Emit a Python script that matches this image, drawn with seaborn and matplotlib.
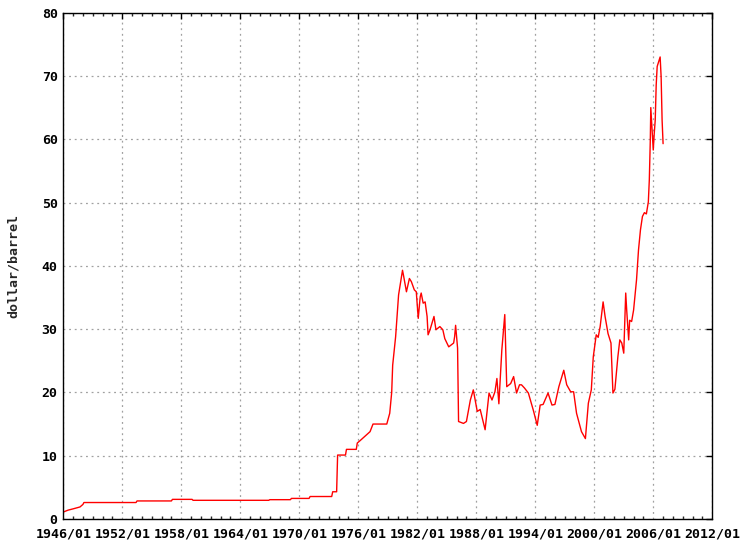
import matplotlib
matplotlib.use("Agg")
import matplotlib.pyplot as plt
import seaborn as sns
import pandas as pd
from matplotlib.ticker import MultipleLocator, FixedLocator

# decimal year of each reading and the price in dollar/barrel
years = [
    1946.0, 1946.5, 1947.0, 1947.7, 1948.0, 1948.1, 1953.4, 1953.5,
    1957.0, 1957.1, 1959.1, 1959.2, 1966.9, 1967.0, 1969.1, 1969.2,
    1971.0, 1971.1, 1973.3, 1973.4, 1973.8, 1973.9, 1974.7, 1974.8,
    1975.8, 1975.9, 1976.2, 1977.2, 1977.5, 1978.9, 1979.2, 1979.4,
    1979.5, 1979.8, 1980.1, 1980.5, 1980.6, 1980.9, 1981.2, 1981.4,
    1981.7, 1981.9, 1982.1, 1982.3, 1982.4, 1982.6, 1982.8, 1983.0,
    1983.1, 1983.3, 1983.7, 1983.9, 1984.3, 1984.6, 1984.8, 1985.2,
    1985.7, 1985.8, 1985.9, 1986.1, 1986.2, 1986.7, 1987.0, 1987.4,
    1987.7, 1988.1, 1988.4, 1988.9, 1989.3, 1989.6, 1989.9, 1990.1,
    1990.3, 1990.6, 1990.9, 1991.1, 1991.5, 1991.8, 1992.1, 1992.4,
    1992.6, 1992.9, 1993.3, 1993.8, 1994.2, 1994.5, 1994.8, 1995.3,
    1995.7, 1996.0, 1996.4, 1996.9, 1997.2, 1997.6, 1997.9, 1998.2,
    1998.7, 1999.1, 1999.4, 1999.7, 1999.9, 2000.2, 2000.4, 2000.6,
    2000.9, 2001.1, 2001.4, 2001.7, 2001.9, 2002.1, 2002.4, 2002.6,
    2002.8, 2003.0, 2003.2, 2003.3, 2003.5, 2003.6, 2003.8, 2004.0,
    2004.3, 2004.5, 2004.7, 2004.9, 2005.1, 2005.3, 2005.5, 2005.6,
    2005.7, 2005.75, 2005.9, 2006.0, 2006.1, 2006.2, 2006.3, 2006.4,
    2006.6, 2006.7, 2006.8, 2006.9, 2007.0,
]
prices = [
    1.1, 1.4, 1.6, 1.9, 2.3, 2.6, 2.6, 2.85,
    2.85, 3.1, 3.1, 2.95, 2.95, 3.05, 3.05, 3.25,
    3.25, 3.55, 3.55, 4.3, 4.3, 10.1, 10.1, 11.0,
    11.0, 12.0, 12.4, 13.8, 15.0, 15.0, 16.7, 20.0,
    24.3, 28.8, 35.4, 39.3, 38.5, 35.9, 38.0, 37.5,
    36.2, 35.9, 31.7, 35.1, 35.7, 34.1, 34.3, 32.0,
    29.1, 29.9, 32.0, 29.9, 30.4, 29.9, 28.5, 27.2,
    27.8, 28.8, 30.6, 27.0, 15.4, 15.1, 15.4, 18.8,
    20.4, 17.0, 17.3, 14.1, 19.9, 18.8, 20.1, 22.2,
    18.2, 26.7, 32.3, 20.9, 21.4, 22.5, 19.9, 21.2,
    21.2, 20.7, 19.9, 17.2, 14.8, 18.0, 18.1, 19.9,
    18.0, 18.1, 20.9, 23.5, 21.2, 20.1, 20.1, 16.7,
    13.8, 12.7, 18.3, 20.4, 25.6, 29.1, 28.7, 30.4,
    34.3, 32.0, 29.3, 27.8, 19.9, 20.5, 25.6, 28.3,
    27.8, 26.2, 35.7, 33.0, 28.3, 31.4, 31.2, 33.0,
    37.8, 42.5, 45.7, 47.8, 48.4, 48.2, 50.1, 53.6,
    59.9, 65.0, 61.0, 58.3, 60.9, 63.0, 68.6, 71.5,
    72.5, 73.0, 69.9, 63.0, 59.3,
]

tick_years = [1946, 1952, 1958, 1964, 1970, 1976, 1982, 1988, 1994, 2000, 2006, 2012]
tick_labels = [f"{y}/01" for y in tick_years]

df = pd.DataFrame({"year": years, "price": prices})

sns.set_style("white")
plt.rcParams["font.family"] = ["DejaVu Sans Mono"]
plt.rcParams["font.weight"] = "bold"

fig = plt.figure(figsize=(7.4, 5.41), dpi=100)
ax = fig.add_axes([0.0855, 0.0407, 0.877, 0.9359])

sns.lineplot(data=df, x="year", y="price", color="#ff0000", linewidth=1.0, ax=ax)

ax.set_xlim(1946, 2012)
ax.set_ylim(0, 80)
ax.xaxis.set_major_locator(FixedLocator(tick_years))
ax.set_xticklabels(tick_labels)
ax.xaxis.set_minor_locator(MultipleLocator(1))
ax.yaxis.set_major_locator(MultipleLocator(10))

ax.tick_params(axis="both", which="major", direction="in", length=4.5, width=1.0,
               top=True, right=True, labelsize=9.5, colors="black", pad=4)
ax.tick_params(axis="x", which="major", pad=6)
ax.tick_params(axis="x", which="minor", direction="in", length=2.2, width=1.0,
               top=True, bottom=True)
for lab in ax.get_xticklabels() + ax.get_yticklabels():
    lab.set_fontweight("bold")

ax.grid(True, which="major", color="#a0a0a0", linestyle=(0, (1.5, 3)), linewidth=0.9)
for s in ax.spines.values():
    s.set_color("black")
    s.set_linewidth(1.0)

ax.set_xlabel("")
ax.set_ylabel("dollar/barrel", fontsize=9.5, fontweight="bold", labelpad=16)

fig.savefig("out.png", dpi=100)
